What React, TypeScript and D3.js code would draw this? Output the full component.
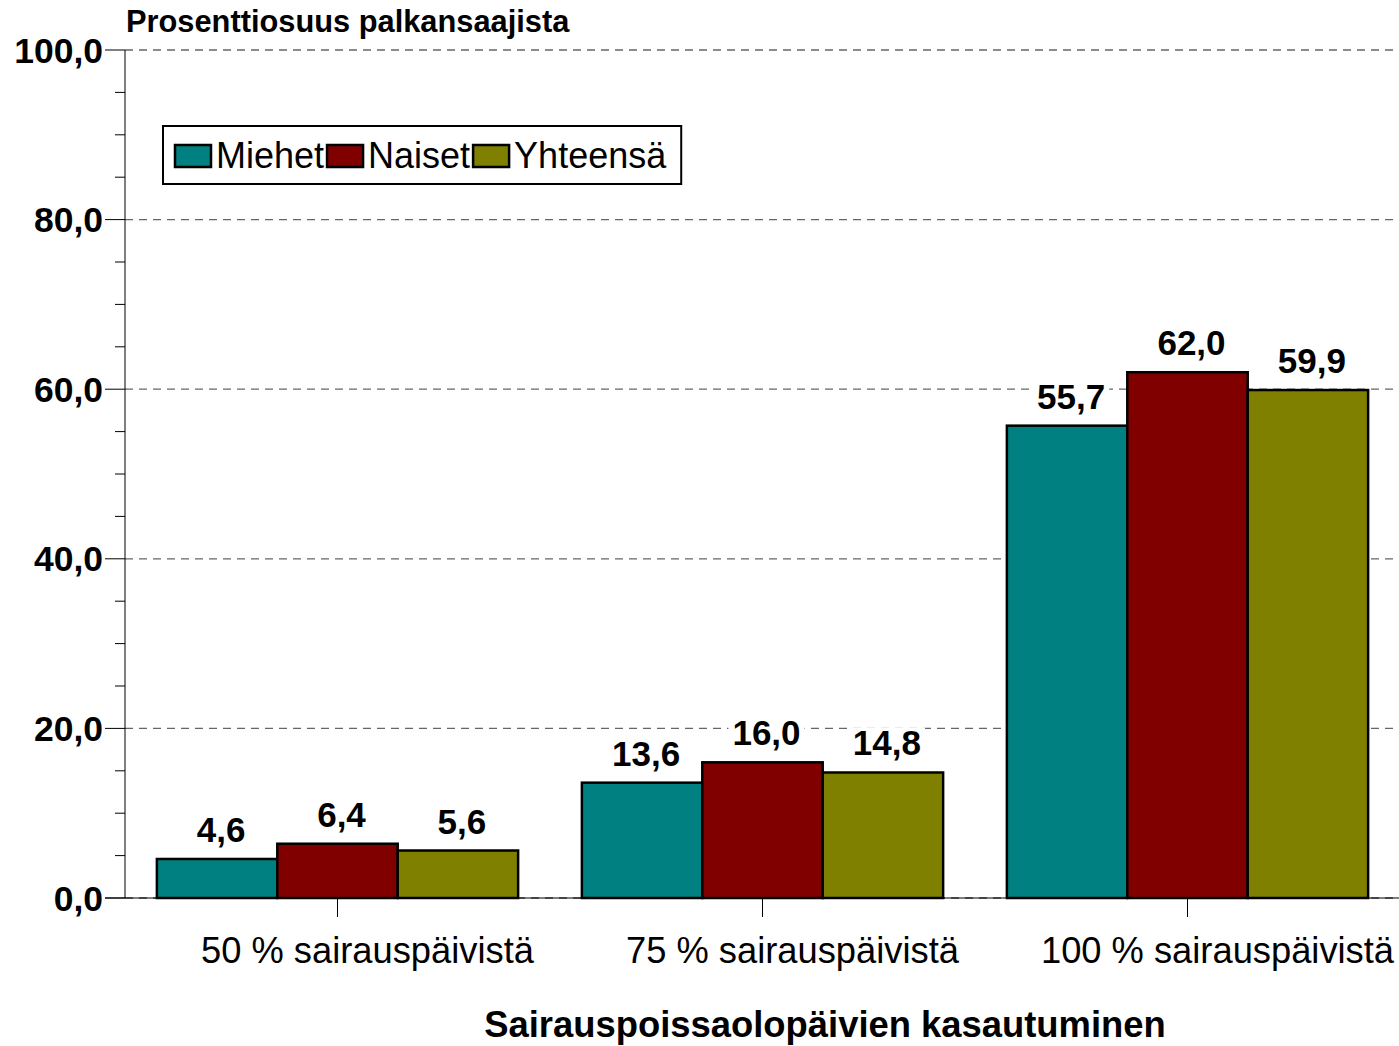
import * as d3 from "d3"

const categories = ["50 % sairauspäivistä", "75 % sairauspäivistä", "100 % sairauspäivistä"]
const seriesNames = ["Miehet", "Naiset", "Yhteensä"]
const seriesColors = ["#008080", "#800000", "#808000"]
const miehet = [4.6, 13.6, 55.7]
const naiset = [6.4, 16.0, 62.0]
const yhteensa = [5.6, 14.8, 59.9]
const seriesValues = [miehet, naiset, yhteensa]
const yTicks = [0, 20, 40, 60, 80, 100]

const FONT = "'Liberation Sans', Arial, Helvetica, sans-serif"
const fmt = (v: number) => v.toFixed(1).replace(".", ",")

function textWidth(text: string, font: string) {
  const c = document.createElement("canvas").getContext("2d")
  if (!c) return text.length * 18
  c.font = font
  return c.measureText(text).width
}

export default function App() {
  const width = 1399
  const height = 1046
  const left = 125
  const right = 1400
  const top = 50
  const bottom = 898

  const x0 = d3.scaleBand<string>().domain(categories).range([left, right])
  const bw = x0.bandwidth()
  const x1 = d3.scaleBand<string>().domain(seriesNames).range([bw * 0.075, bw * 0.925])
  const y = d3.scaleLinear().domain([0, 100]).range([bottom, top])
  const minor = d3.range(0, 101, 5)

  // legend layout from text widths
  const legendFont = `36px ${FONT}`
  let lx = 175
  const legendItems = seriesNames.map((name, i) => {
    const item = { name, color: seriesColors[i], x: lx }
    lx += 36 + 5 + textWidth(name, legendFont) + 3
    return item
  })
  const legendRight = lx + 12

  return (
    <svg
      width={width}
      height={height}
      style={{ position: "absolute", left: 0, top: 0, background: "#fff" }}
      fontFamily={FONT}
    >
      {/* grid */}
      {yTicks.map((t) => (
        <line
          key={"g" + t}
          x1={left}
          x2={width}
          y1={y(t)}
          y2={y(t)}
          stroke="#666"
          strokeWidth={1.3}
          strokeDasharray="8,6"
        />
      ))}

      {/* y axis */}
      <line x1={left} x2={left} y1={top} y2={bottom} stroke="#000" strokeWidth={1} />
      {minor.map((t) => (
        <line
          key={"m" + t}
          x1={t % 20 === 0 ? left - 20 : left - 10}
          x2={left}
          y1={y(t)}
          y2={y(t)}
          stroke="#000"
          strokeWidth={1}
        />
      ))}
      {yTicks.map((t) => (
        <text
          key={"yl" + t}
          x={103}
          y={y(t) + 12.5}
          textAnchor="end"
          fontSize={35.5}
          fontWeight="bold"
        >
          {fmt(t)}
        </text>
      ))}

      {/* x axis */}
      <line x1={left - 20} x2={width} y1={bottom} y2={bottom} stroke="#000" strokeWidth={1.2} />
      {categories.map((c) => {
        const cx = (x0(c) ?? 0) + bw / 2
        return (
          <g key={c}>
            <line x1={cx} x2={cx} y1={bottom} y2={bottom + 19} stroke="#000" strokeWidth={1} />
            <text x={cx + 30} y={963} textAnchor="middle" fontSize={36.3}>
              {c}
            </text>
          </g>
        )
      })}

      {/* bars */}
      {categories.map((c, ci) =>
        seriesNames.map((s, si) => {
          const v = seriesValues[si][ci]
          const bx = (x0(c) ?? 0) + (x1(s) ?? 0)
          return (
            <rect
              key={c + s}
              x={bx}
              y={y(v)}
              width={x1.bandwidth()}
              height={bottom - y(v)}
              fill={seriesColors[si]}
              stroke="#000"
              strokeWidth={2.5}
            />
          )
        })
      )}

      {/* value labels */}
      {categories.map((c, ci) =>
        seriesNames.map((s, si) => {
          const v = seriesValues[si][ci]
          const cx = (x0(c) ?? 0) + (x1(s) ?? 0) + x1.bandwidth() / 2 + 4
          const label = fmt(v)
          const w = textWidth(label, `bold 35px ${FONT}`)
          return (
            <g key={"v" + c + s}>
              <rect x={cx - w / 2 - 4} y={y(v) - 45} width={w + 8} height={30} fill="#fff" />
              <text x={cx} y={y(v) - 17} textAnchor="middle" fontSize={35} fontWeight="bold">
                {label}
              </text>
            </g>
          )
        })
      )}

      {/* legend */}
      <rect x={163} y={126} width={legendRight - 163} height={58} fill="#fff" stroke="#000" strokeWidth={2} />
      {legendItems.map((it) => (
        <g key={it.name}>
          <rect x={it.x} y={145} width={36} height={22} fill={it.color} stroke="#000" strokeWidth={2.5} />
          <text x={it.x + 41} y={168} fontSize={36}>
            {it.name}
          </text>
        </g>
      ))}

      {/* titles */}
      <text x={126} y={32} fontSize={30.8} fontWeight="bold">
        Prosenttiosuus palkansaajista
      </text>
      <text x={825} y={1037} textAnchor="middle" fontSize={36.4} fontWeight="bold">
        Sairauspoissaolopäivien kasautuminen
      </text>
    </svg>
  )
}
